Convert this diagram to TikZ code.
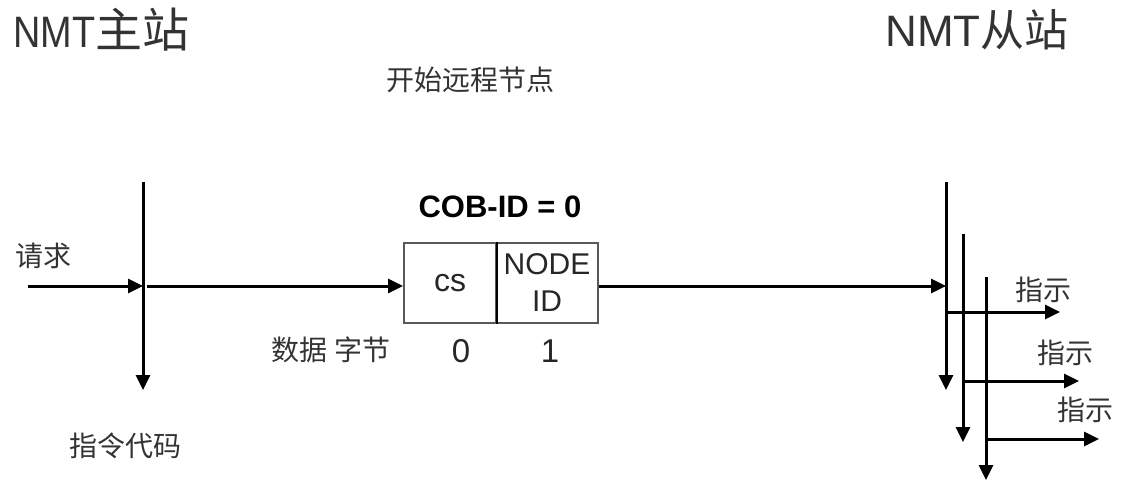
\documentclass[tikz,border=0pt]{standalone}
\usepackage{graphicx}
\usepackage{fontspec}
\setmainfont{Liberation Sans}
\newfontfamily\cjk{Noto Sans CJK SC}
\usetikzlibrary{arrows.meta}

\begin{document}
\begin{tikzpicture}[x=1pt, y=-1pt, line width=3pt,
  arr/.style={-{Triangle[length=15pt,width=14pt]}},
  lbl/.style={inner sep=0pt, text=black!80, font=\fontsize{28}{34}\selectfont\cjk},
  title/.style={anchor=base west, inner sep=0pt, text=black!80, font=\fontsize{44}{50}\selectfont},
  field/.style={draw=black!65, line width=2pt, minimum height=80pt, inner sep=0pt, text=black!85, align=center}]
\useasboundingbox (0,0) rectangle (1130,484);
\node[title] (master) at (12,48) {\scalebox{0.86}[1]{NMT}{\fontsize{47}{50}\selectfont\cjk 主站}};
\node[title] (slave) at (884,47) {NMT{\cjk 从站}};
\node[lbl] (start) at (470,80) {开始远程节点};
\node[anchor=base, inner sep=0pt, font=\fontsize{31}{36}\selectfont\bfseries] (cobid) at (500,217) {COB-ID = 0};
\node[field, minimum width=92pt, font=\fontsize{32}{38}\selectfont] (csf) at (450,283) {cs};
\node[field, minimum width=102pt, font=\fontsize{30}{37}\selectfont] (idf) at (547,283) {NODE\\ID};
\draw[line width=2pt] (csf.north east) -- (csf.south east);
\node[lbl] (req) at (44,256) {请求};
\node[lbl] (bytes) at (331,350) {数据 字节};
\node[anchor=base, inner sep=0pt, text=black!85, font=\fontsize{33}{38}\selectfont] (b0) at (461,362) {0};
\node[anchor=base, inner sep=0pt, text=black!85, font=\fontsize{33}{38}\selectfont] (b1) at (550,362) {1};
\node[lbl] (cmd) at (125,446) {指令代码};
\node[lbl] (ind1) at (1043,290) {指示};
\node[lbl] (ind2) at (1065,353) {指示};
\node[lbl] (ind3) at (1085,410) {指示};

\coordinate (reqstart) at (28,286);
\coordinate (mtop) at (143,182);
\coordinate (mbot) at (143,390);
\coordinate (mhit) at (143,286);
\coordinate (mout) at (147,286);
\coordinate (s1top) at (946,182);
\coordinate (s1bot) at (946,390);
\coordinate (s1hit) at (946,286);
\coordinate (s2top) at (963,234);
\coordinate (s2bot) at (963,442);
\coordinate (s3top) at (986,277);
\coordinate (s3bot) at (986,480);
\coordinate (s1out) at (946,312);
\coordinate (s2out) at (963,381);
\coordinate (s3out) at (986,439);
\coordinate (ind1end) at (1060,312);
\coordinate (ind2end) at (1079,381);
\coordinate (ind3end) at (1099,439);

\draw[arr] (mtop) -- (mbot);
\draw[arr] (reqstart) -- (mhit);
\draw[arr] (mout) -- (mout -| csf.west);
\draw[arr] (mout -| idf.east) -- (s1hit);
\foreach \i in {1,2,3} {
  \draw[arr] (s\i top) -- (s\i bot);
  \draw[arr] (s\i out) -- (ind\i end);
}
\end{tikzpicture}
\end{document}
